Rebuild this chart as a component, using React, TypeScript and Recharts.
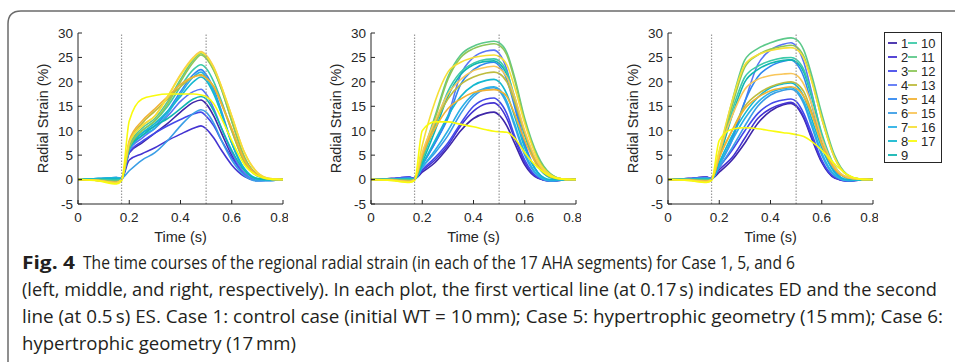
import { LineChart, Line, XAxis, YAxis, ReferenceLine } from 'recharts';

// sample times (s)
const time = [0, 0.08, 0.15, 0.17, 0.2, 0.25, 0.3, 0.35, 0.4, 0.45, 0.48, 0.5, 0.53, 0.56, 0.6, 0.65, 0.7, 0.75, 0.8];

const segments = ['1', '2', '3', '4', '5', '6', '7', '8', '9', '10', '11', '12', '13', '14', '15', '16', '17'];

const segmentColors = [
  '#3e26a8', '#4433d1', '#4349ea', '#5a74f5', '#2f87f0', '#3a9ee6', '#2ab0e6', '#14b8d0', '#10b5b2',
  '#3ccaa8', '#5cc98a', '#8dc759', '#bebc3e', '#f2b233', '#f9c65a', '#f6df36', '#f9fb0e',
];

// Case 1: control
const case1 = [
  [0, -0.2, -0.3, 0, 5.5, 7.5, 9.5, 11.5, 13.8, 15.8, 16.3, 15.5, 13, 9.5, 5, 1.2, -0.1, -0.1, 0],
  [0, -0.1, -0.3, 0, 4, 5.3, 6.5, 8, 9.3, 10.5, 11, 10.4, 8.5, 6, 3, 0.6, -0.2, -0.1, 0],
  [0, 0, -0.2, 0, 5.5, 7.8, 9.5, 11, 12.3, 13.4, 13.8, 13, 11, 8, 4.5, 1, -0.2, -0.1, 0],
  [0, 0.1, 0.2, 0, 6, 8.5, 10.5, 13, 16, 18, 18.5, 17.5, 14.5, 10.5, 5.5, 1.3, -0.2, -0.2, 0],
  [0, 0.2, 0.4, 0.2, 6.5, 9.5, 11, 14, 18, 21.5, 22.5, 21.5, 18.5, 14, 7.5, 2, 0, -0.2, 0],
  [0, 0.2, 0.4, 0.3, 1.8, 4, 5.5, 8, 11, 13.5, 14.3, 13.8, 11.5, 8, 4, 0.8, -0.3, -0.2, 0],
  [0, 0.2, 0.4, 0.2, 6, 9, 10.5, 13.5, 17.5, 21, 22, 21, 18, 13.5, 7.5, 2, 0, -0.2, 0],
  [0, 0.2, 0.3, 0.1, 6.5, 9.5, 11.5, 14, 17, 20, 21, 20.3, 17.5, 13.5, 7.5, 2.2, 0.2, -0.1, 0],
  [0, 0, 0, 0, 6.5, 9, 11, 12.5, 14.5, 16.5, 17, 16.5, 14, 10.5, 6, 1.8, 0.2, 0, 0],
  [0, 0, -0.1, 0, 7, 10, 12, 15, 19, 22.5, 23.5, 22.8, 20, 16, 10, 3.5, 0.7, 0, 0],
  [0, -0.1, -0.3, 0, 7, 10.5, 12.5, 16, 20.5, 24.5, 25.8, 25, 22.5, 18.5, 12, 4.5, 1, 0.1, 0],
  [0, -0.1, -0.4, 0, 6.5, 10, 12, 15.5, 20, 24, 25.5, 24.8, 22.3, 18.5, 12, 4.5, 1, 0.1, 0],
  [0, -0.2, -0.5, 0, 7.5, 11.5, 14, 16.5, 19, 21, 21.5, 20.8, 19, 15.5, 10, 3.5, 0.8, 0.1, 0],
  [0, -0.2, -0.6, 0, 8, 12, 14.5, 17, 19.5, 21, 21.3, 20.8, 19, 15.5, 10.5, 4, 1, 0.1, 0],
  [0, -0.2, -0.6, 0, 7.5, 11, 13, 17, 21.5, 25, 26.2, 25.5, 23, 19, 13, 5.5, 1.5, 0.2, 0],
  [0, -0.2, -0.7, 0, 7.5, 11, 13, 17, 21.3, 24.8, 26, 25.3, 22.8, 19, 13, 5.5, 1.4, 0.2, 0],
  [0, -0.3, -0.9, -0.3, 12, 16.5, 17.2, 17.5, 17.5, 17.5, 17.3, 17, 15.5, 12.5, 8, 3, 0.8, 0.1, 0],
];

// Case 5: hypertrophic (15 mm)
const case5 = [
  [0, 0.2, 0.4, 0.2, 1.5, 3.5, 6.5, 10, 12.5, 13.6, 13.8, 13.2, 11, 7.5, 3, 0.3, -0.3, -0.1, 0],
  [0, 0.2, 0.5, 0.2, 1.8, 4, 7, 11, 14, 15.5, 15.7, 15, 12.5, 8.5, 3.5, 0.4, -0.3, -0.1, 0],
  [0, 0.2, 0.5, 0.2, 2, 4.5, 7.5, 11.5, 15, 16.5, 16.7, 16, 13.5, 9, 4, 0.5, -0.3, -0.1, 0],
  [0, 0.1, 0.3, 0.1, 3, 7.5, 13, 21.5, 25, 26.3, 26.5, 25.8, 22.5, 16, 7.5, 1.5, -0.2, -0.1, 0],
  [0, 0.1, 0.3, 0.1, 3, 7.5, 12.5, 19.5, 22.5, 23.8, 24, 23.3, 20.5, 15, 7, 1.5, -0.2, -0.1, 0],
  [0, 0.1, 0.2, 0.1, 2.5, 5.5, 9, 13.5, 17, 18.6, 18.8, 18.2, 15.5, 11, 5, 0.8, -0.3, -0.1, 0],
  [0, 0.1, 0.2, 0.1, 2.5, 6, 10, 14.5, 17.5, 18.8, 19, 18.5, 16, 11.5, 5.5, 1, -0.2, -0.1, 0],
  [0, 0, 0.1, 0, 3, 8, 13, 17, 19.3, 20.3, 20.5, 20, 17.5, 13, 6.5, 1.5, 0, -0.1, 0],
  [0, 0, 0, 0, 3.5, 10, 17, 21.5, 23.5, 24.2, 24.3, 23.8, 21.5, 16.5, 9, 2.8, 0.4, 0, 0],
  [0, 0, 0, 0, 4, 11, 18, 22, 23.8, 24.6, 24.7, 24.3, 22, 17, 9.5, 3, 0.5, 0, 0],
  [0, 0, -0.2, 0, 5, 13, 21, 25.5, 27.3, 28.1, 28.3, 28, 26, 21, 12.5, 5, 1.2, 0.1, 0],
  [0, 0, -0.2, 0, 4.5, 12.5, 20.5, 25, 26.8, 27.6, 27.8, 27.5, 25.5, 20.5, 12, 4.6, 1.1, 0.1, 0],
  [0, -0.1, -0.3, 0, 5, 11.5, 16.5, 19.5, 21, 21.8, 22, 21.7, 20, 16, 9.5, 3.2, 0.7, 0.1, 0],
  [0, -0.1, -0.4, 0, 5, 10.5, 14.5, 16.5, 17.8, 18.3, 18.4, 18.2, 17, 13.5, 8, 2.8, 0.6, 0.1, 0],
  [0, -0.1, -0.4, 0, 5.5, 12, 17.5, 20.5, 22.3, 23, 23.2, 22.8, 21, 17, 10, 3.6, 0.8, 0.1, 0],
  [0, -0.2, -0.5, 0, 7, 16, 22, 24, 25, 25.4, 25.5, 25.2, 23.5, 19, 11.5, 4.2, 1, 0.1, 0],
  [0, -0.2, -0.6, -0.2, 10, 11.8, 11.8, 11.3, 10.8, 10.2, 9.9, 9.8, 9.7, 8.5, 5.5, 2.5, 0.7, 0.1, 0],
];

// Case 6: hypertrophic (17 mm)
const case6 = [
  [0, 0.2, 0.5, 0.2, 1.5, 4, 7.5, 11.5, 14, 15.3, 15.6, 15, 12.5, 8.5, 3.5, 0.3, -0.3, -0.1, 0],
  [0, 0.2, 0.5, 0.2, 2, 4.5, 8.5, 12.5, 14.5, 15.5, 15.8, 15.2, 12.8, 8.8, 3.8, 0.4, -0.3, -0.1, 0],
  [0, 0.2, 0.4, 0.2, 2.5, 6, 10, 13.5, 15.5, 16.3, 16.5, 16, 13.5, 9.5, 4, 0.5, -0.3, -0.1, 0],
  [0, 0.2, 0.4, 0.2, 3, 8, 16, 23.5, 26.5, 27.7, 28, 27.3, 24, 18, 9, 2, -0.1, -0.1, 0],
  [0, 0.1, 0.3, 0.1, 3, 8.5, 16, 21, 23.2, 24.2, 24.5, 23.8, 21, 15.5, 7.5, 1.5, -0.2, -0.1, 0],
  [0, 0.1, 0.3, 0.1, 2.5, 6.5, 11, 15, 17.3, 18.3, 18.5, 18, 15.5, 11, 5, 0.8, -0.2, -0.1, 0],
  [0, 0.1, 0.2, 0.1, 3, 8, 12.5, 15.8, 17.8, 18.6, 18.8, 18.3, 16, 11.5, 5.5, 1, -0.2, -0.1, 0],
  [0, 0, 0.1, 0, 3.5, 9, 13.5, 16.8, 18.8, 19.6, 19.8, 19.3, 17, 12.5, 6.5, 1.5, 0, -0.1, 0],
  [0, 0, 0, 0, 4.5, 13, 20, 22.5, 23.8, 24.4, 24.5, 24.1, 22, 17, 9, 2.5, 0.3, 0, 0],
  [0, 0, 0, 0, 5, 14, 21, 23.2, 24.3, 24.9, 25, 24.6, 22.5, 17.5, 9.5, 2.8, 0.4, 0, 0],
  [0, 0, -0.2, 0, 5.5, 16, 24.5, 26.8, 28, 28.8, 29, 28.7, 26.5, 21.5, 13.5, 5, 1, 0.1, 0],
  [0, 0, -0.2, 0, 5, 15, 23, 25.5, 26.7, 27.3, 27.5, 27.2, 25.2, 20.5, 12.5, 4.5, 0.9, 0.1, 0],
  [0, -0.1, -0.3, 0, 4.5, 10, 15, 17.5, 19, 19.8, 20, 19.7, 18, 14, 7.5, 2.2, 0.4, 0.1, 0],
  [0, -0.1, -0.3, 0, 4.5, 10, 14.5, 16.8, 18.2, 18.8, 19, 18.7, 17, 13.5, 7.2, 2.2, 0.4, 0.1, 0],
  [0, -0.1, -0.4, 0, 5.5, 13, 18.5, 20.5, 21.3, 21.6, 21.7, 21.4, 19.5, 15.5, 8.5, 2.7, 0.5, 0.1, 0],
  [0, -0.2, -0.5, 0, 6, 16, 23.5, 25.5, 26.4, 26.9, 27, 26.7, 24.8, 20.3, 12.5, 4.5, 0.9, 0.1, 0],
  [0, -0.2, -0.6, -0.2, 8, 10.3, 10.6, 10.4, 10, 9.6, 9.4, 9.2, 8.8, 7.8, 6, 3.2, 1, 0.1, 0],
];

const xTicks = [0, 0.2, 0.4, 0.6, 0.8];
const yTicks = [-5, 0, 5, 10, 15, 20, 25, 30];
const markerTimes = [0.17, 0.5];

const axisColor = '#262626';
const font = "'Liberation Sans', Arial, Helvetica, sans-serif";

function buildRows(values: number[][]) {
  return time.map((t, i) => {
    const row: Record<string, number> = { t };
    segments.forEach((s, k) => {
      row['s' + s] = values[k][i];
    });
    return row;
  });
}

function StrainPlot({ values, left }: { values: number[][]; left: number }) {
  const data = buildRows(values);
  return (
    <div style={{ position: 'absolute', left, top: 0 }}>
      <LineChart width={270} height={254} data={data} margin={{ top: 33, right: 5, bottom: 0, left: 0 }}>
        <XAxis
          dataKey="t"
          type="number"
          domain={[0, 0.8]}
          ticks={xTicks}
          height={50}
          stroke={axisColor}
          tickSize={-4}
          tickMargin={12}
          tick={{ fill: axisColor, fontSize: 13.5, fontFamily: font }}
          label={{ value: 'Time (s)', position: 'insideBottom', offset: 12, fill: axisColor, fontSize: 14.5, fontFamily: font }}
        />
        <YAxis
          type="number"
          domain={[-5, 30]}
          ticks={yTicks}
          width={60}
          stroke={axisColor}
          tickSize={-4}
          tickMargin={9}
          tick={{ fill: axisColor, fontSize: 13.5, fontFamily: font }}
          label={{
            value: 'Radial Strain (%)',
            angle: -90,
            position: 'insideLeft',
            offset: 25,
            fill: axisColor,
            fontSize: 14.5,
            fontFamily: font,
            style: { textAnchor: 'middle' },
          }}
        />
        {segments.map((s, k) => (
          <Line
            key={s}
            type="monotone"
            dataKey={'s' + s}
            stroke={segmentColors[k]}
            strokeWidth={1.6}
            dot={false}
            isAnimationActive={false}
          />
        ))}
        {markerTimes.map((m) => (
          <ReferenceLine key={m} x={m} stroke="#9a9a9a" strokeWidth={1.2} strokeDasharray="1.5 1.5" />
        ))}
      </LineChart>
    </div>
  );
}

function SegmentLegend() {
  const rowH = 14;
  return (
    <svg style={{ position: 'absolute', left: 884, top: 32 }} width={60} height={132}>
      <rect x={0.5} y={0.5} width={57} height={130} fill="#fff" stroke={axisColor} strokeWidth={1} />
      {segments.map((s, k) => {
        const col = k < 9 ? 0 : 1;
        const row = k < 9 ? k : k - 9;
        const x0 = col === 0 ? 4 : 24;
        const y = 11 + row * rowH;
        return (
          <g key={s}>
            <line x1={x0} x2={x0 + 9} y1={y} y2={y} stroke={segmentColors[k]} strokeWidth={1.8} />
            <text x={x0 + 13} y={y + 4.5} fontSize={13} fontFamily={font} fill={axisColor}>
              {s}
            </text>
          </g>
        );
      })}
    </svg>
  );
}

const captionLines = [
  'The time courses of the regional radial strain (in each of the 17 AHA segments) for Case 1, 5, and 6',
  '(left, middle, and right, respectively). In each plot, the first vertical line (at 0.17\u2009s) indicates ED and the second',
  'line (at 0.5\u2009s) ES. Case 1: control case (initial WT = 10\u2009mm); Case 5: hypertrophic geometry (15\u2009mm); Case 6:',
  'hypertrophic geometry (17\u2009mm)',
];

function Caption() {
  const capFont = "'Liberation Sans Narrow', 'Open Sans', 'Liberation Sans', sans-serif";
  const color = '#231f20';
  return (
    <svg style={{ position: 'absolute', left: 0, top: 0 }} width={955} height={362}>
      <path d="M 8 362 L 8 24 Q 8 11 21 11 L 955 11" fill="none" stroke="#6b6b6b" strokeWidth={1.5} />
      <text x={22} y={269} fontSize={18} fontWeight="bold" fontFamily={capFont} fill={color} textLength={53} lengthAdjust="spacingAndGlyphs">
        Fig. 4
      </text>
      <text x={83} y={269} fontSize={18} fontFamily={capFont} fill={color} textLength={712} lengthAdjust="spacingAndGlyphs">
        {captionLines[0]}
      </text>
      <text x={22} y={296} fontSize={18} fontFamily={capFont} fill={color} textLength={915} lengthAdjust="spacingAndGlyphs">
        {captionLines[1]}
      </text>
      <text x={22} y={323} fontSize={18} fontFamily={capFont} fill={color} textLength={921} lengthAdjust="spacingAndGlyphs">
        {captionLines[2]}
      </text>
      <text x={22} y={350} fontSize={18} fontFamily={capFont} fill={color} textLength={274} lengthAdjust="spacingAndGlyphs">
        {captionLines[3]}
      </text>
    </svg>
  );
}

export default function App() {
  return (
    <div style={{ position: 'absolute', left: 0, top: 0, width: 955, height: 362, background: '#fff', overflow: 'hidden' }}>
      <Caption />
      <StrainPlot values={case1} left={18} />
      <StrainPlot values={case5} left={311} />
      <StrainPlot values={case6} left={608} />
      <SegmentLegend />
    </div>
  );
}
